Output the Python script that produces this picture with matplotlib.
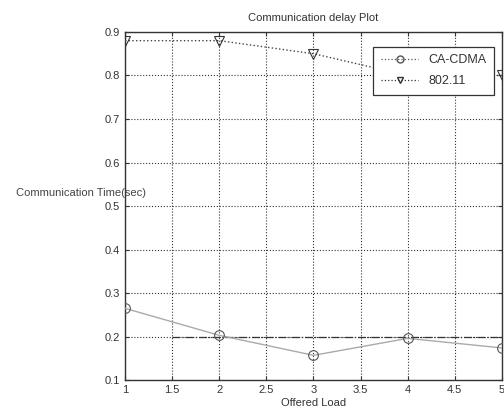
import matplotlib
matplotlib.use("Agg")
import matplotlib.pyplot as plt
from matplotlib.lines import Line2D

offered_load = [1, 2, 3, 4, 5]
ca_cdma = [0.265, 0.203, 0.157, 0.196, 0.174]
ieee80211 = [0.88, 0.88, 0.85, 0.80, 0.80]
extra_x = [1.5, 5]
extra_y = [0.2, 0.2]
xticks = [1, 1.5, 2, 2.5, 3, 3.5, 4, 4.5, 5]
xtick_labels = ["1", "1.5", "2", "2.5", "3", "3.5", "4", "4.5", "5"]
yticks = [0.1, 0.2, 0.3, 0.4, 0.5, 0.6, 0.7, 0.8, 0.9]
ytick_labels = ["0.1", "0.2", "0.3", "0.4", "0.5", "0.6", "0.7", "0.8", "0.9"]

plt.rcParams['font.family'] = ['Liberation Sans', 'DejaVu Sans']
fig = plt.figure(figsize=(5.04, 4.15), dpi=100)
ax = fig.add_axes([0.248, 0.084, 0.748, 0.839])

ax.plot(extra_x, extra_y, color='#333333', linestyle='-.', linewidth=0.9, zorder=2)
ax.plot(offered_load, ca_cdma, color='#aaaaaa', linestyle='-', linewidth=1.0,
        marker='o', markersize=7, markerfacecolor='none', markeredgecolor='#555555',
        markeredgewidth=0.8, label='CA-CDMA', zorder=3)
ax.plot(offered_load, ieee80211, color='#444444', linestyle=':', linewidth=1.0,
        marker='v', markersize=7, markerfacecolor='none', markeredgecolor='#333333',
        markeredgewidth=0.8, label='802.11', zorder=3)

ax.set_xlim(1, 5)
ax.set_ylim(0.1, 0.9)
ax.set_xticks(xticks)
ax.set_xticklabels(xtick_labels)
ax.set_yticks(yticks)
ax.set_yticklabels(ytick_labels)
ax.tick_params(labelsize=8, length=3, direction='in', colors='#333333', top=True, right=True)
ax.grid(True, linestyle=':', color='#333333', linewidth=0.8)
for s in ax.spines.values():
    s.set_color('#333333')
    s.set_linewidth(1.0)

ax.set_title('Communication delay Plot', fontsize=8, color='#333333', pad=8)
ax.set_xlabel('Offered Load', fontsize=8, color='#333333', labelpad=2)
fig.text(81/504, 1 - 193/415, 'Communication Time(sec)', fontsize=8, color='#444444',
         ha='center', va='center')

h1 = Line2D([], [], color='#555555', linestyle=':', marker='o', markerfacecolor='none',
            markersize=5, linewidth=0.9)
h2 = Line2D([], [], color='#333333', linestyle=':', marker='v', markerfacecolor='none',
            markersize=5, linewidth=0.9)
leg = ax.legend([h1, h2], ['CA-CDMA', '802.11'], loc='upper right',
                bbox_to_anchor=(0.979, 0.957), borderaxespad=0, fontsize=9,
                frameon=True, fancybox=False, edgecolor='#333333', framealpha=1,
                handlelength=3.0, labelspacing=0.7, borderpad=0.6)
leg.set_zorder(5)
leg.get_frame().set_linewidth(0.9)
for t in leg.get_texts():
    t.set_color('#333333')

fig.savefig('out.png', dpi=100)
